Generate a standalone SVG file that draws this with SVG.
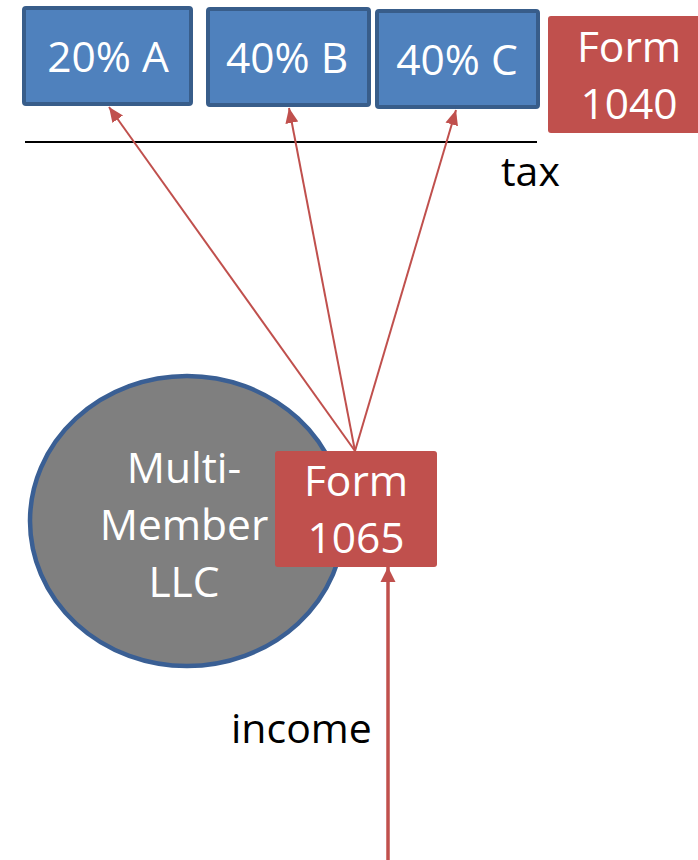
<svg xmlns="http://www.w3.org/2000/svg" width="698" height="860" viewBox="0 0 698 860">
<defs>
<style>
.blue{fill:#4f81bd;stroke:#385d8a;stroke-width:4}
.red{fill:#c0504d}
.wt{fill:#ffffff;font-family:"Open Sans","Liberation Sans",sans-serif;font-size:42.5px;text-anchor:middle}
.bt{fill:#000000;font-family:"Open Sans","Liberation Sans",sans-serif;font-size:41px}
.arr{stroke:#c0504d;stroke-width:2;fill:none;marker-end:url(#ah)}
.arr2{stroke:#c0504d;stroke-width:3.5;fill:none;marker-end:url(#ah2)}
</style>
<marker id="ah" markerUnits="userSpaceOnUse" markerWidth="16" markerHeight="16" viewBox="0 0 16 16" refX="15" refY="8" orient="auto">
<path d="M0,1.5 L15,8 L0,14.5 Z" fill="#c0504d"/>
</marker>
<marker id="ah2" markerUnits="userSpaceOnUse" markerWidth="16" markerHeight="18" viewBox="0 0 16 18" refX="15" refY="9" orient="auto">
<path d="M0,1.5 L15,9 L0,16.5 Z" fill="#c0504d"/>
</marker>
</defs>
<line x1="25" y1="142" x2="537" y2="142" stroke="#000" stroke-width="2"/>
<text class="bt" x="501" y="186">tax</text>
<text class="bt" x="231" y="743">income</text>
<g id="llc">
<ellipse cx="187" cy="521" rx="157" ry="145" fill="#7f7f7f" stroke="#3a5f94" stroke-width="4.5"/>
<text class="wt" x="184" y="483">Multi-</text>
<text class="wt" x="184" y="540">Member</text>
<text class="wt" x="184" y="597">LLC</text>
</g>
<g id="memberA">
<rect class="blue" x="24" y="8" width="167" height="96" rx="2"/>
<text class="wt" x="108" y="72">20% A</text>
</g>
<g id="memberB">
<rect class="blue" x="208" y="9" width="161" height="96" rx="2"/>
<text class="wt" x="287" y="73">40% B</text>
</g>
<g id="memberC">
<rect class="blue" x="377" y="11" width="161" height="96" rx="2"/>
<text class="wt" x="457" y="75">40% C</text>
</g>
<g id="form1040">
<rect class="red" x="548" y="16" width="160" height="117" rx="3"/>
<text class="wt" x="629" y="62">Form</text>
<text class="wt" x="629" y="119">1040</text>
</g>
<g id="form1065">
<rect class="red" x="275" y="451" width="162" height="116" rx="3"/>
<text class="wt" x="356" y="496">Form</text>
<text class="wt" x="356" y="553">1065</text>
</g>
<g id="connectors">
<line class="arr" x1="355" y1="451" x2="109" y2="107"/>
<line class="arr" x1="355" y1="451" x2="289" y2="108"/>
<line class="arr" x1="355" y1="451" x2="456" y2="110"/>
<line class="arr2" x1="388" y1="860" x2="388" y2="567"/>
</g>
</svg>
